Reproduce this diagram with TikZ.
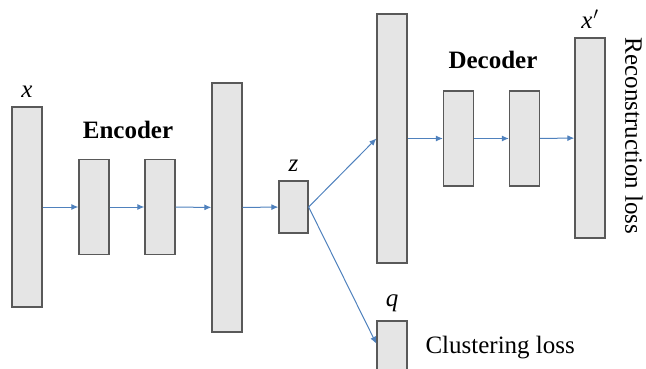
\documentclass[tikz,border=0pt]{standalone}
\usepackage{fontspec}
\setmainfont{Liberation Serif}
\usetikzlibrary{arrows.meta,positioning,calc}
\definecolor{linkblue}{RGB}{79,129,189}
\tikzset{x=1pt, y=-1pt, % one unit per pixel of the layout, y downwards
        every node/.style={font=\fontsize{25}{30}\selectfont},
        layer/.style={ % Sets the properties for each layer block
            draw=black!65,
            line width=1.3pt,
            fill=black!10,
            minimum width=30pt,
            inner sep=0pt},
        lbl/.style={label distance=5pt},
        every edge/.style={ % Sets the properties for each connection
            draw=linkblue,
            -{Latex[length=7pt,width=6pt]}, % small filled heads
            line width=1pt}
        }
\begin{document}
\begin{tikzpicture}
    \useasboundingbox (0,0) rectangle (646,369);

    % encoder
    \node[layer, minimum height=200pt, label={[lbl]above:\textit{x}}] (in) at (27,207) {};
    \node[layer, minimum height=95pt]  (enc1) at (94,207) {};
    \node[layer, minimum height=95pt]  (enc2) at (160,207) {};
    \node[layer, minimum height=249pt] (enc3) at (227,207.5) {};
    \node[layer, minimum width=29pt, minimum height=52pt,
          label={[lbl]above:\textit{z}}] (z) at (293.5,207) {};

    % decoder
    \node[layer, minimum height=249pt] (dec1) at (392,138.5) {};
    \node[layer, minimum height=95pt]  (dec2) at (458.5,138.5) {};
    \node[layer, minimum height=95pt]  (dec3) at (524.5,138.5) {};
    \node[layer, minimum height=200pt,
          label={[lbl]above:\textit{x}\kern1pt$'$}] (out) at (590,138) {};

    % clustering branch
    \node[layer, minimum height=60pt, label={[lbl]above:\textit{q}}] (q) at (392,351) {};

    \node[font=\fontsize{25}{30}\selectfont\bfseries] (enclbl) at (128,130) {Encoder};
    \node[font=\fontsize{25}{30}\selectfont\bfseries] (declbl) at (493,60) {Decoder};
    \node[rotate=-90] (recloss) at (634,136) {Reconstruction loss};
    \node[anchor=west] (cluloss) at (422,348) {Clustering loss};

    \draw
        (in)   edge (enc1)
        (enc1) edge (enc2)
        (enc2) edge (enc3)
        (enc3) edge (z)
        (z.east) edge (dec1.west)
        (z.east) edge (q.155)
        (dec1) edge (dec2)
        (dec2) edge (dec3)
        (dec3) edge (out);
\end{tikzpicture}
\end{document}
